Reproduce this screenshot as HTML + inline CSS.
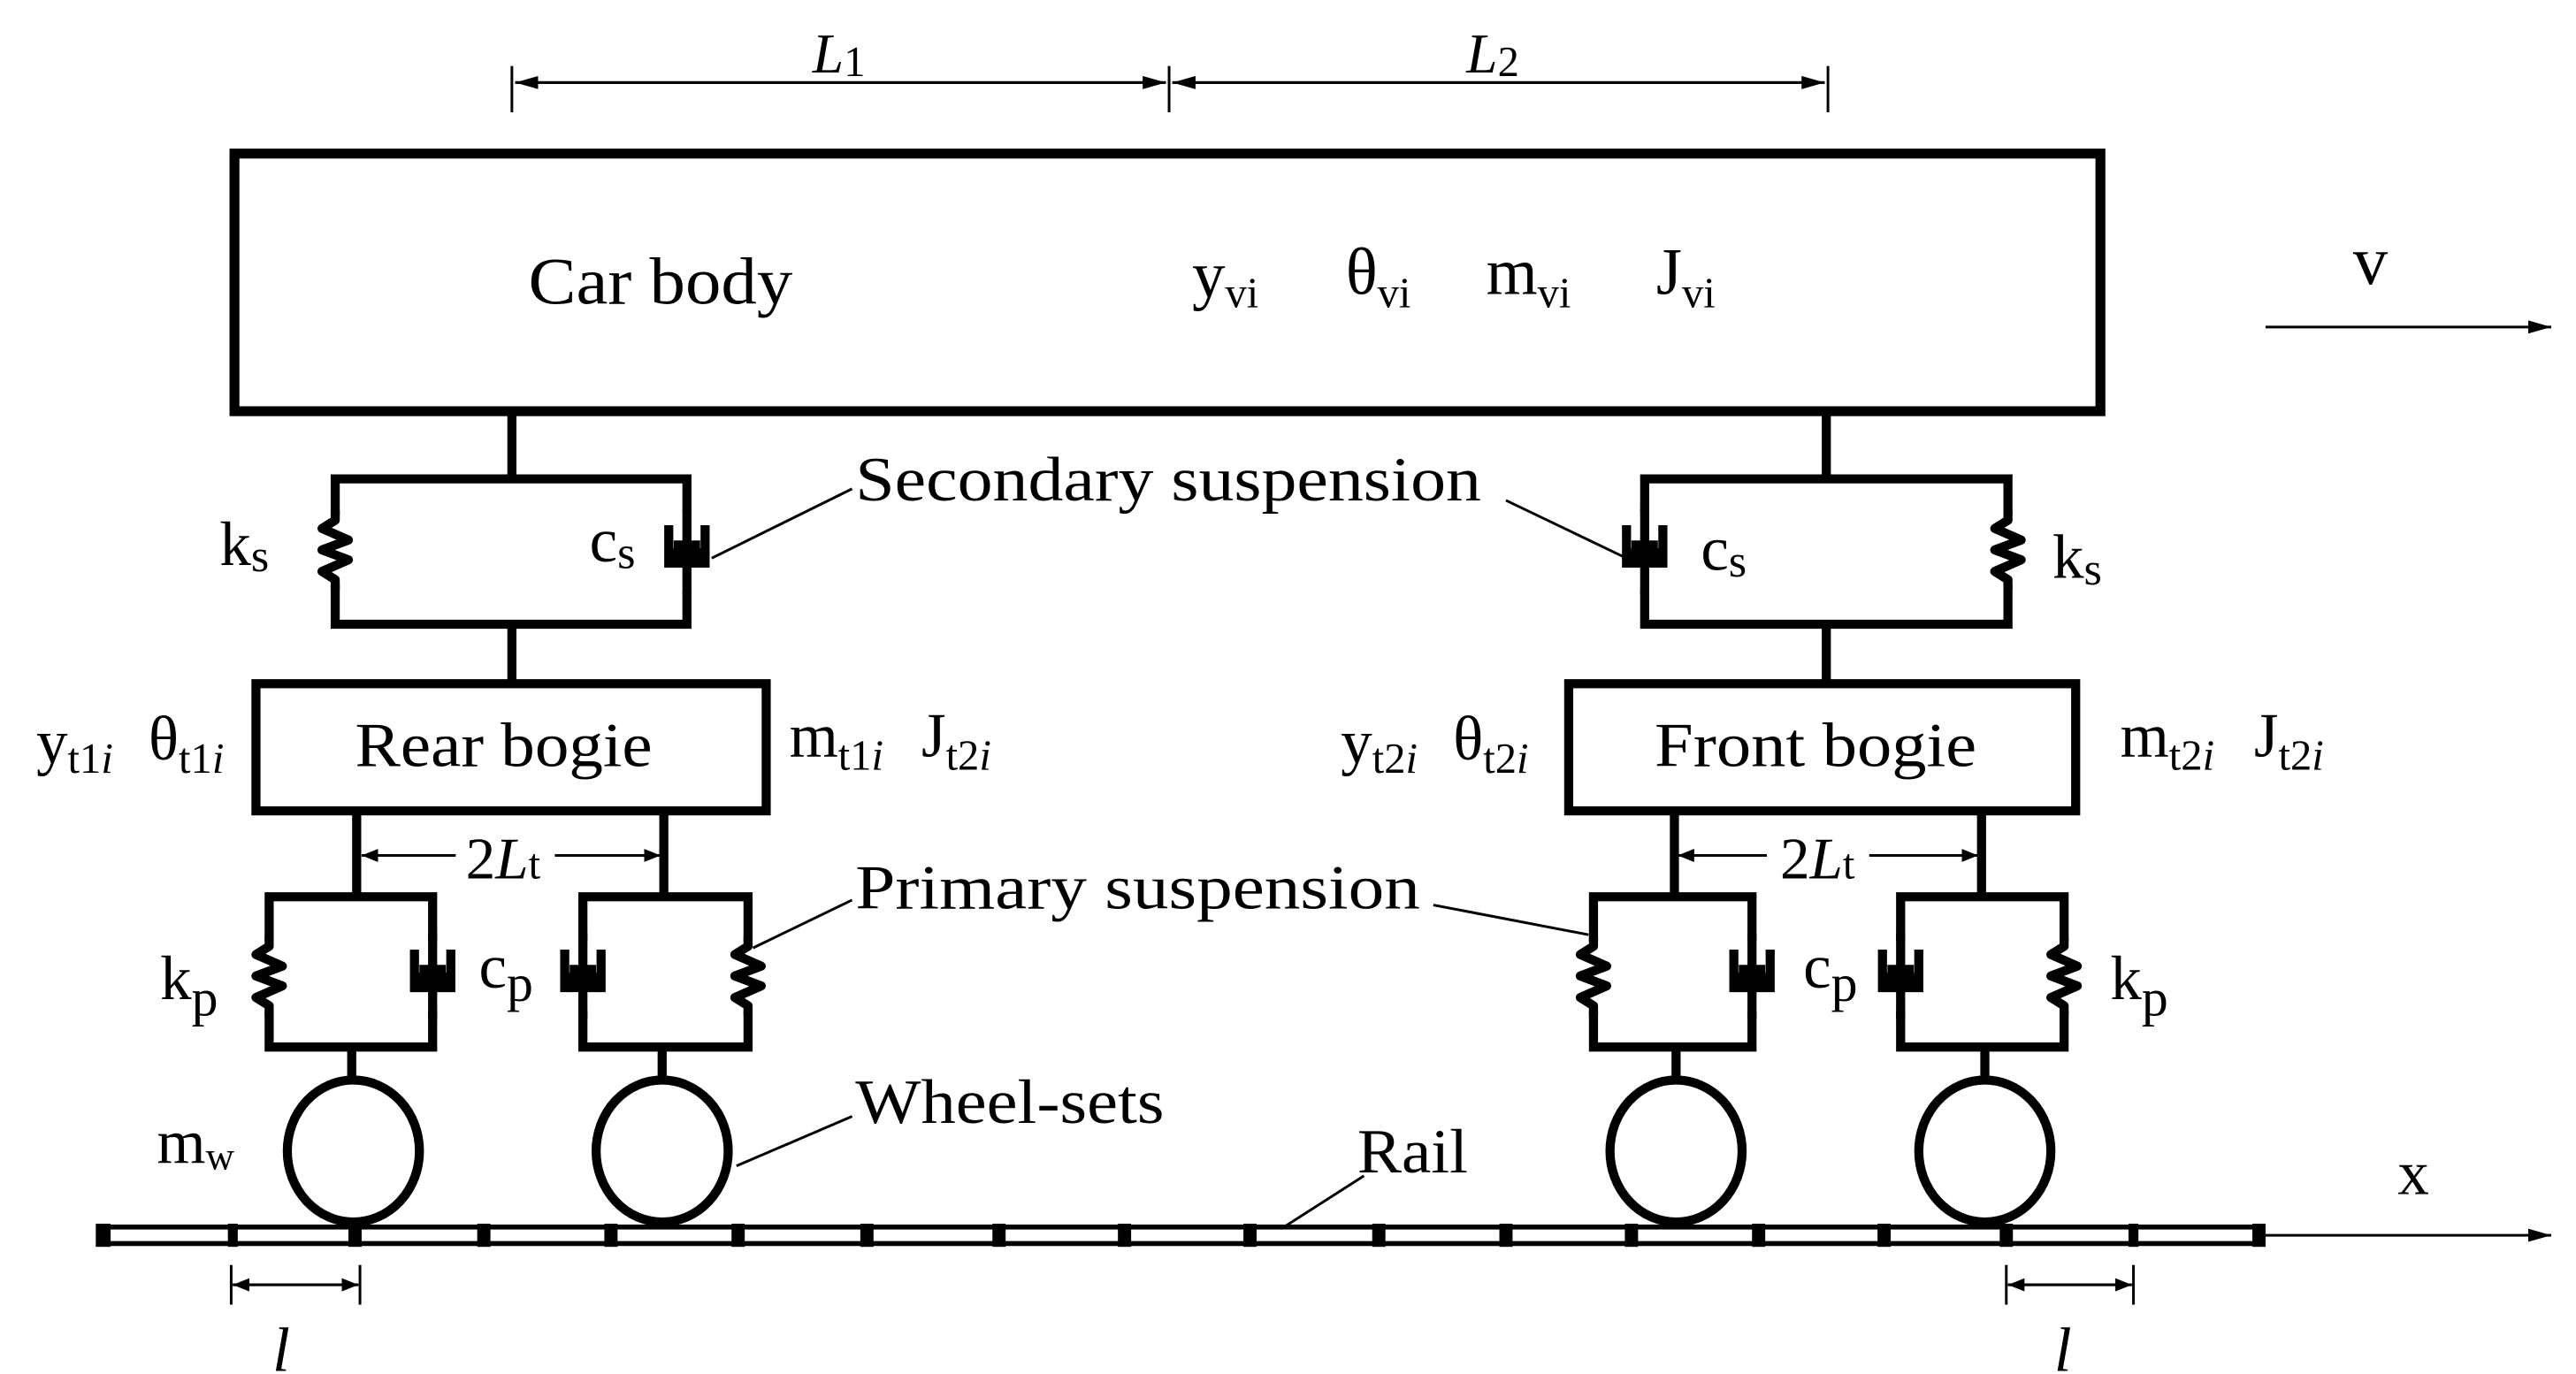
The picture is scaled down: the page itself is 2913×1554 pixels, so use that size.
<!DOCTYPE html>
<html><head><meta charset="utf-8"><style>
html,body{margin:0;padding:0;background:#fff;}
svg{display:block;}
text{font-family:"Liberation Serif",serif;fill:#000;}
</style></head><body>
<svg width="2913" height="1554" viewBox="0 0 1560 832" preserveAspectRatio="none" xmlns="http://www.w3.org/2000/svg">
<defs>
<marker id="ar" markerWidth="10" markerHeight="8" refX="10" refY="4" orient="auto" markerUnits="userSpaceOnUse"><path d="M0,0 L10,4 L0,8 Z" fill="#000"/></marker>
<marker id="ar2" markerWidth="14" markerHeight="8" refX="14" refY="4" orient="auto" markerUnits="userSpaceOnUse"><path d="M0,0 L14,4 L0,8 Z" fill="#000"/></marker>
<g id="spring"><path d="M0,-24 L0,-18 L-8,-13 L8,-6 L-8,0 L8,6 L-8,13 L0,18 L0,24" fill="none" stroke="#000" stroke-width="5.5" stroke-linejoin="round"/></g>
<g id="damp"><path d="M0,-26 L0,-4 M-11,-16 L-11,7 L11,7 L11,-16 M-8,-4 L8,-4 M0,-4 L0,26" fill="none" stroke="#000" stroke-width="5.5"/><rect x="-11" y="-2" width="22" height="9" fill="#000"/></g>
</defs>
<g fill="none" stroke="#000" stroke-width="1.6">
<line x1="310" y1="40" x2="310" y2="68"/><line x1="708" y1="40" x2="708" y2="68"/><line x1="1107" y1="40" x2="1107" y2="68"/>
<line x1="312" y1="50" x2="706" y2="50" marker-end="url(#ar2)"/><line x1="706" y1="50" x2="312" y2="50" marker-end="url(#ar2)"/>
<line x1="710" y1="50" x2="1105" y2="50" marker-end="url(#ar2)"/><line x1="1105" y1="50" x2="710" y2="50" marker-end="url(#ar2)"/>
<line x1="1372" y1="198" x2="1545" y2="198" marker-end="url(#ar2)"/>
<line x1="1370" y1="748" x2="1545" y2="748" marker-end="url(#ar2)"/>
</g>
<text x="492" y="44" font-size="34" font-style="italic">L</text><text x="511" y="46" font-size="26">1</text>
<text x="888" y="44" font-size="34" font-style="italic">L</text><text x="907" y="46" font-size="26">2</text>
<rect x="142" y="93" width="1130" height="156" fill="none" stroke="#000" stroke-width="6"/>
<text x="320" y="184" font-size="40" textLength="160" lengthAdjust="spacingAndGlyphs">Car body</text>
<text x="722" y="180" font-size="40">y<tspan font-size="26" dy="6">vi</tspan></text>
<text x="815" y="178" font-size="40">θ<tspan font-size="26" dy="8">vi</tspan></text>
<text x="900" y="178" font-size="40">m<tspan font-size="26" dy="8">vi</tspan></text>
<text x="1003" y="178" font-size="40">J<tspan font-size="26" dy="8">vi</tspan></text>
<text x="1425" y="172" font-size="42">v</text>
<text x="1452" y="723" font-size="38">x</text>
<g fill="none" stroke="#000" stroke-width="5.5">
<line x1="310" y1="250" x2="310" y2="290"/>
<path d="M203,312 L203,290 L416,290 L416,310 M416,358 L416,378 L203,378 L203,354"/>
<line x1="310" y1="378" x2="310" y2="413"/>
<rect x="155" y="414" width="309" height="77"/>
<line x1="1106" y1="250" x2="1106" y2="290"/>
<path d="M1216,312 L1216,290 L996,290 L996,310 M996,358 L996,378 L1216,378 L1216,354"/>
<line x1="1106" y1="378" x2="1106" y2="413"/>
<rect x="950" y="414" width="307" height="77"/>
<line x1="216" y1="492" x2="216" y2="543"/><line x1="402" y1="492" x2="402" y2="543"/>
<path d="M163,570 L163,543 L262,543 L262,570 M262,612 L262,634 L163,634 L163,612"/>
<path d="M353,570 L353,543 L453,543 L453,570 M453,612 L453,634 L353,634 L353,612"/>
<line x1="213" y1="634" x2="213" y2="655"/><line x1="401" y1="634" x2="401" y2="655"/>
<line x1="1014" y1="492" x2="1014" y2="543"/><line x1="1200" y1="492" x2="1200" y2="543"/>
<path d="M965,570 L965,543 L1061,543 L1061,570 M1061,612 L1061,634 L965,634 L965,612"/>
<path d="M1151,570 L1151,543 L1250,543 L1250,570 M1250,612 L1250,634 L1151,634 L1151,612"/>
<line x1="1015" y1="634" x2="1015" y2="655"/><line x1="1202" y1="634" x2="1202" y2="655"/>
<ellipse cx="214" cy="697" rx="40" ry="43"/><ellipse cx="401" cy="697" rx="40" ry="43"/>
<ellipse cx="1015" cy="697" rx="40" ry="43"/><ellipse cx="1202" cy="697" rx="40" ry="43"/>
</g>
<use href="#spring" x="203" y="333"/><use href="#damp" x="416" y="334"/>
<use href="#spring" x="1216" y="333"/><use href="#damp" x="996" y="334"/>
<use href="#spring" x="163" y="591"/><use href="#damp" x="262" y="591"/>
<use href="#damp" x="353" y="591"/><use href="#spring" x="453" y="591"/>
<use href="#spring" x="965" y="591"/><use href="#damp" x="1061" y="591"/>
<use href="#damp" x="1151" y="591"/><use href="#spring" x="1250" y="591"/>
<rect x="60" y="743" width="1310" height="10" fill="#fff" stroke="#000" stroke-width="3"/>
<g fill="#000">
<rect x="58" y="741" width="9" height="14"/><rect x="211" y="741" width="8" height="14"/><rect x="289" y="741" width="8" height="14"/><rect x="366" y="741" width="8" height="14"/><rect x="443" y="741" width="8" height="14"/><rect x="521" y="741" width="8" height="14"/><rect x="601" y="741" width="8" height="14"/><rect x="677" y="741" width="8" height="14"/><rect x="753" y="741" width="8" height="14"/><rect x="831" y="741" width="8" height="14"/><rect x="908" y="741" width="8" height="14"/><rect x="984" y="741" width="8" height="14"/><rect x="1061" y="741" width="8" height="14"/><rect x="1137" y="741" width="8" height="14"/><rect x="1211" y="741" width="8" height="14"/><rect x="1364" y="741" width="8" height="14"/>
<rect x="138" y="741" width="6" height="14"/><rect x="1289" y="741" width="6" height="14"/>
</g>
<g fill="none" stroke="#000" stroke-width="1.6">
<line x1="140" y1="766" x2="140" y2="790"/><line x1="218" y1="766" x2="218" y2="790"/>
<line x1="141" y1="778" x2="217" y2="778" marker-end="url(#ar)"/><line x1="217" y1="778" x2="141" y2="778" marker-end="url(#ar)"/>
<line x1="1215" y1="766" x2="1215" y2="790"/><line x1="1292" y1="766" x2="1292" y2="790"/>
<line x1="1216" y1="778" x2="1291" y2="778" marker-end="url(#ar)"/><line x1="1291" y1="778" x2="1216" y2="778" marker-end="url(#ar)"/>
<line x1="276" y1="518" x2="219" y2="518" marker-end="url(#ar)"/>
<line x1="336" y1="518" x2="400" y2="518" marker-end="url(#ar)"/>
<line x1="1070" y1="518" x2="1016" y2="518" marker-end="url(#ar)"/>
<line x1="1132" y1="518" x2="1198" y2="518" marker-end="url(#ar)"/>
<line x1="431" y1="338" x2="516" y2="296"/><line x1="912" y1="303" x2="985" y2="338"/>
<line x1="456" y1="574" x2="516" y2="545"/><line x1="868" y1="548" x2="962" y2="566"/>
<line x1="446" y1="706" x2="516" y2="676"/>
<line x1="776" y1="744" x2="826" y2="712"/>
</g>
<text x="165" y="830" font-size="38" font-style="italic">l</text>
<text x="1244" y="830" font-size="38" font-style="italic">l</text>
<text x="282" y="532" font-size="36">2<tspan font-style="italic">L</tspan><tspan font-size="26">t</tspan></text>
<text x="1078" y="532" font-size="36">2<tspan font-style="italic">L</tspan><tspan font-size="26">t</tspan></text>
<g font-size="38">
<text x="518" y="303" textLength="379" lengthAdjust="spacingAndGlyphs">Secondary suspension</text>
<text x="518" y="550" textLength="342" lengthAdjust="spacingAndGlyphs">Primary suspension</text>
<text x="518" y="680" textLength="187" lengthAdjust="spacingAndGlyphs">Wheel-sets</text>
<text x="822" y="710" textLength="67" lengthAdjust="spacingAndGlyphs">Rail</text>
<text x="133" y="342">k<tspan font-size="28" dy="4">s</tspan></text>
<text x="357" y="340">c<tspan font-size="28" dy="4">s</tspan></text>
<text x="1030" y="345">c<tspan font-size="28" dy="4">s</tspan></text>
<text x="1243" y="350">k<tspan font-size="28" dy="4">s</tspan></text>
<text x="97" y="605">k<tspan font-size="32" dy="10">p</tspan></text>
<text x="290" y="598">c<tspan font-size="32" dy="8">p</tspan></text>
<text x="1092" y="598">c<tspan font-size="32" dy="8">p</tspan></text>
<text x="1278" y="605">k<tspan font-size="32" dy="10">p</tspan></text>
<text x="95" y="704">m<tspan font-size="24" dy="4">w</tspan></text>
<text x="215" y="464" textLength="180" lengthAdjust="spacingAndGlyphs">Rear bogie</text>
<text x="1002" y="464" textLength="195" lengthAdjust="spacingAndGlyphs">Front bogie</text>
<text x="22" y="462">y<tspan font-size="26" dy="6">t1<tspan font-style="italic">i</tspan></tspan></text>
<text x="90" y="460">θ<tspan font-size="26" dy="8">t1<tspan font-style="italic">i</tspan></tspan></text>
<text x="478" y="458">m<tspan font-size="26" dy="8">t1<tspan font-style="italic">i</tspan></tspan></text>
<text x="558" y="458">J<tspan font-size="26" dy="8">t2<tspan font-style="italic">i</tspan></tspan></text>
<text x="812" y="462">y<tspan font-size="26" dy="6">t2<tspan font-style="italic">i</tspan></tspan></text>
<text x="880" y="460">θ<tspan font-size="26" dy="8">t2<tspan font-style="italic">i</tspan></tspan></text>
<text x="1284" y="458">m<tspan font-size="26" dy="8">t2<tspan font-style="italic">i</tspan></tspan></text>
<text x="1365" y="458">J<tspan font-size="26" dy="8">t2<tspan font-style="italic">i</tspan></tspan></text>
</g>
</svg>
</body></html>
